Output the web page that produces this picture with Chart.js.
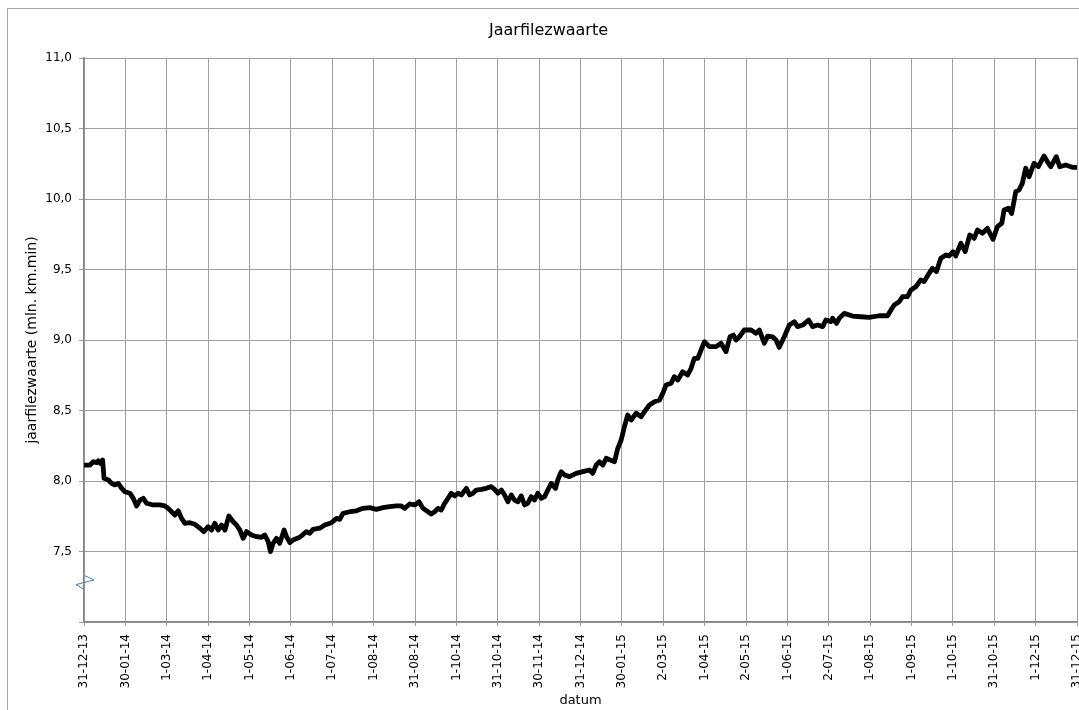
<!DOCTYPE html>
<html><head><meta charset="utf-8">
<script src="https://cdn.jsdelivr.net/npm/chart.js@4/dist/chart.umd.min.js"></script>
<style>html,body{margin:0;padding:0;background:#fff;}#wrap{position:relative;width:1079px;height:710px;}</style>
</head><body><div id="wrap"><canvas id="c" width="1079" height="710"></canvas></div>
<script>
const chartTitle = 'Jaarfilezwaarte';
const xAxisTitle = 'datum';
const yAxisTitle = 'jaarfilezwaarte (mln. km.min)';
const xTickLabels = ['31-12-13','30-01-14','1-03-14','1-04-14','1-05-14','1-06-14','1-07-14','1-08-14','31-08-14','1-10-14','31-10-14','30-11-14','31-12-14','30-01-15','2-03-15','1-04-15','2-05-15','1-06-15','2-07-15','1-08-15','1-09-15','1-10-15','31-10-15','1-12-15','31-12-15'];
const yTickLabels = ['','7,5','8,0','8,5','9,0','9,5','10,0','10,5','11,0'];
// days since 31-12-13
const dayOffsets = [0,4.4,6.9,9.3,10.5,12.2,13.7,14.7,17.9,20.3,22.8,25.2,27.7,30.1,33.8,36.2,38.7,41.1,43.6,46.0,50.9,55.8,59.5,61.9,64.4,66.8,69.3,71.7,74.2,77.8,81.5,85.2,88.1,91.3,93.8,96.2,98.6,101.1,103.6,106.5,109.7,112.1,114.6,117.0,119.5,123.2,126.8,130.5,132.9,135.4,137.1,139.0,141.5,143.9,147.1,148.9,151.3,153.7,158.6,163.5,166.0,168.4,173.3,177.0,181.9,185.6,188.0,190.4,195.4,200.3,205.1,210.0,
215.0,219.8,224.7,229.6,233.3,235.7,239.4,243.1,246.3,249.2,252.9,255.3,257.8,260.2,262.7,265.1,267.6,270.0,272.5,274.9,277.4,281.1,283.5,285.9,288.4,292.1,295.7,299.4,301.8,304.3,306.8,309.2,311.6,314.1,316.5,319.0,321.4,323.9,326.3,328.8,331.2,333.6,336.1,338.6,341.0,343.5,346.6,348.3,350.8,353.3,356.9,361.8,366.7,371.6,374.0,376.5,378.9,381.4,383.9,386.8,390.0,392.4,394.9,
397.3,399.7,402.2,405.9,409.6,412.0,415.7,419.4,423.0,425.5,427.9,431.6,434.0,436.5,440.1,443.8,446.3,448.7,451.2,453.6,456.1,459.7,464.7,468.3,472.0,474.9,477.4,479.3,481.8,485.4,490.4,494.0,496.5,500.1,502.6,506.2,508.7,511.1,514.8,518.5,522.2,524.6,528.3,532.7,535.6,539.3,543.0,545.4,549.1,550.3,553.2,555.2,558.9,565.0,571.1,577.2,
584.6,590.7,593.2,595.6,599.3,601.7,605.4,607.9,611.5,615.2,617.6,621.3,623.7,626.7,629.9,633.6,636.0,638.9,640.9,644.6,647.8,651.2,654.4,656.8,660.5,664.1,668.3,671.5,674.7,676.4,679.6,682.0,685.0,687.4,689.8,692.3,694.8,698.4,701.6,705.8,708.2,710.7,714.8,717.3,721.7,726.6,730];
const filezwaarte = [8.113,8.113,8.137,8.130,8.144,8.125,8.149,8.019,8.007,7.983,7.972,7.983,7.948,7.924,7.913,7.877,7.823,7.865,7.877,7.842,7.830,7.830,7.823,7.806,7.782,7.759,7.789,7.735,7.700,7.704,7.693,7.665,7.641,7.676,7.652,7.700,7.652,7.688,7.652,7.752,7.711,7.688,7.652,7.593,7.641,7.617,7.605,7.601,7.617,7.570,7.499,7.558,7.593,7.558,7.652,7.605,7.563,7.582,7.601,7.641,7.629,7.657,7.665,7.688,7.704,7.735,7.728,7.771,7.782,7.789,7.806,7.811,
7.799,7.811,7.818,7.823,7.823,7.806,7.837,7.830,7.853,7.806,7.782,7.766,7.782,7.806,7.794,7.842,7.877,7.913,7.894,7.913,7.901,7.948,7.901,7.913,7.936,7.941,7.948,7.960,7.941,7.913,7.936,7.901,7.853,7.901,7.865,7.853,7.894,7.830,7.842,7.889,7.865,7.913,7.877,7.889,7.936,7.983,7.948,8.007,8.066,8.043,8.031,8.054,8.066,8.078,8.054,8.113,8.137,8.113,8.161,8.149,8.137,8.232,8.291,
8.385,8.468,8.433,8.480,8.456,8.492,8.539,8.562,8.574,8.622,8.681,8.693,8.740,8.716,8.775,8.752,8.799,8.870,8.870,8.929,8.988,8.953,8.953,8.977,8.917,9.023,9.035,9.000,9.023,9.071,9.071,9.047,9.071,8.977,9.028,9.023,9.000,8.948,9.023,9.106,9.130,9.095,9.106,9.142,9.095,9.106,9.095,9.142,9.130,9.154,9.118,9.154,9.189,9.170,9.165,9.161,
9.172,9.172,9.213,9.248,9.272,9.307,9.307,9.355,9.378,9.426,9.414,9.473,9.508,9.485,9.579,9.603,9.596,9.626,9.596,9.686,9.626,9.745,9.721,9.780,9.757,9.792,9.714,9.804,9.828,9.922,9.934,9.898,10.052,10.064,10.111,10.218,10.158,10.253,10.229,10.305,10.265,10.229,10.300,10.229,10.241,10.225,10.225];
// small axis-break marker near the value axis
const breakMarkDays = [0.7, 7.3, -5.9, 0];
const breakMarkValues = [7.328, 7.298, 7.265, 7.232];

const FONT = "'DejaVu Sans', Verdana, sans-serif";
Chart.defaults.font.family = FONT;
Chart.defaults.color = '#000';

const frame = {
  id: 'frame',
  beforeDraw(chart) {
    const ctx = chart.ctx;
    ctx.save();
    ctx.fillStyle = '#fff';
    ctx.fillRect(0, 0, chart.width, chart.height);
    ctx.strokeStyle = '#a6a6a6';
    ctx.lineWidth = 1;
    ctx.strokeRect(7.5, 8.5, 2000, 2000);
    ctx.restore();
  }
};

new Chart(document.getElementById('c'), {
  type: 'line',
  data: {
    datasets: [
      {
        data: dayOffsets.map((d, i) => ({x: d, y: filezwaarte[i]})),
        borderColor: '#000', borderWidth: 4.8, pointRadius: 0, tension: 0,
        borderJoinStyle: 'round', borderCapStyle: 'round', fill: false
      },
      {
        data: breakMarkDays.map((d, i) => ({x: d, y: breakMarkValues[i]})),
        borderColor: '#4a7ebb', borderWidth: 1, pointRadius: 0, tension: 0,
        clip: false, fill: false
      }
    ]
  },
  options: {
    responsive: false, animation: false, devicePixelRatio: 1,
    layout: {padding: {left: 20, right: 2, top: 0, bottom: 0}},
    plugins: {
      legend: {display: false}, tooltip: {enabled: false},
      title: {display: true, text: chartTitle, color: '#000',
        font: {family: FONT, size: 16, weight: 'normal'}, padding: {top: 21.4, bottom: 17.4}}
    },
    scales: {
      x: {
        type: 'linear', min: 0, max: 730,
        afterBuildTicks: s => { s.ticks = xTickLabels.map((_, i) => ({value: i * 730 / 24})); },
        ticks: {autoSkip: false, minRotation: 90, maxRotation: 90, padding: 8, color: '#000',
          font: {family: FONT, size: 12}, callback: (v, i) => xTickLabels[i]},
        grid: {color: '#a0a0a0', lineWidth: 1, tickLength: 4},
        border: {color: '#868686', width: 1.5},
        title: {display: true, text: xAxisTitle, color: '#000', font: {family: FONT, size: 13}, padding: {top: 0, bottom: 2}},
        afterFit: s => { s.height = 88; s.paddingLeft = 0; s.paddingRight = 0; }
      },
      y: {
        type: 'linear', min: 7, max: 11,
        ticks: {stepSize: 0.5, padding: 7, color: '#000', font: {family: FONT, size: 12},
          callback: (v, i) => yTickLabels[i]},
        grid: {color: '#a0a0a0', lineWidth: 1, tickLength: 5},
        border: {color: '#868686', width: 1.5},
        title: {display: true, text: yAxisTitle, color: '#000', font: {family: FONT, size: 14}, padding: {top: 4.2, bottom: 0}},
        afterFit: s => { s.width = 64; }
      }
    }
  },
  plugins: [frame]
});
</script></body></html>
